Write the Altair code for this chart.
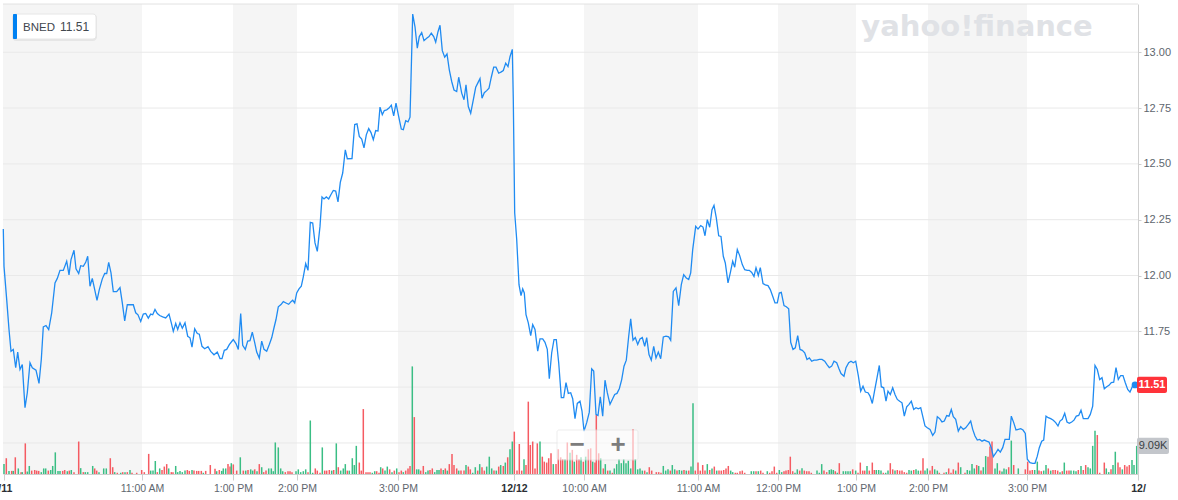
import altair as alt
import pandas as pd

# ---------------- data ----------------
# x is the position along the intraday trade-sequence axis (12/11 open -> 12/13)
line_t = [3.3, 4, 6.7, 9, 11, 13.3, 15.7, 17.7, 20, 22.3, 25, 27.3, 30, 32.3, 36, 39, 41.3, 43.3, 46, 48.7,
          51.7, 55, 57.3, 60, 63.3, 66.7, 69, 71, 74, 76, 78.7, 80.7, 83.3, 85.7, 87.7, 90, 92.3, 94.7, 97, 99.3,
          102.3, 104.7, 106.7, 108.7, 111, 113.3, 116.7, 120, 122.3, 124.7, 127.3, 133.3, 135.7, 138, 140.7, 143.3,
          145.7, 148.3, 150.7, 152.7, 155, 157.3, 159.7, 162.7, 165.7, 169, 171.3, 173.3, 175.7, 177.7, 180, 182.3,
          185, 187.7, 190, 192, 194.7, 197.3, 199.3, 202, 204.7, 208, 210.7, 214, 217.3, 220, 222, 224.3, 226.7,
          229.3, 232.7,
          233.3, 236, 238.3, 240.7, 242.7, 245.3, 247.7, 250, 252.3, 254.7, 256.7, 259.3, 261.7, 264, 266.7, 269.3,
          271.7, 274, 276, 278.3, 281, 283.3, 286, 288.7, 291, 292.7, 294.7, 296.7, 299, 301.3, 303.3, 305.7, 308,
          310.3, 312.7, 315, 317.3, 320, 322, 324, 326.3, 328.7, 331, 333.3, 335.7, 338, 340.3, 342.7, 345.3, 347.3,
          352, 354.7, 357, 359.3, 361.7, 364, 366.3, 368.7, 371, 373.3, 375.7, 378, 380, 382.3, 384.3, 386.7, 389,
          391.3, 393.7, 396, 398.7, 401.3, 403.3, 405.7, 408, 410, 412.7, 415, 417.3, 419.3, 421.7, 424, 426.7, 429,
          431.3, 433.7, 435.7, 438, 440, 442.3, 444.7, 447, 449.3, 451.7, 454, 456.7, 458.7,
          461.7, 464, 466, 468.3, 470.7, 473.3, 475.7, 478, 480, 482, 484.3, 486.7, 489, 491.3, 493.7, 496, 498.7,
          501.3, 503.3, 505.7, 508, 510, 512.3, 513.3, 514.7, 516.7, 519, 521, 522.7, 524.3, 526, 528.3, 530.7,
          532.7, 535, 537.7, 540, 542.7, 545, 547.3, 549.3, 551.7, 554, 556.3, 558.7, 561.3, 563.7, 566, 568.3,
          570.7, 572.7, 575, 577.3, 580, 582, 584, 586.7, 589.3, 591.7, 593.7, 596, 598, 600.3, 602.7, 605, 607.3,
          610, 612.3, 614.7, 617, 619.3, 621.7, 624, 626.3, 628.7, 630.7, 633, 635.3, 637.7, 640, 642.3, 644.7,
          646.7, 649, 651.3, 653.7, 656, 658.3, 660.7, 663.3, 666, 668.7, 670.7, 673.3, 676, 678.7, 681.3, 683.7,
          686.3, 688.7, 690.7, 692.7,
          695.7, 698, 700.7, 703, 705, 707.3, 709.7, 712, 714, 716.3, 718.7, 721, 723.3, 725.3, 728, 730.3, 732.7,
          734.7, 737.3, 739.7, 742.3, 744.7, 747.3, 749.3, 751.7, 754, 756, 758.3, 760.3, 763, 765.3, 768, 770.3,
          772.7, 775, 777.3, 779.3, 781.3, 784, 786.3, 788.7, 790.7, 793, 795.3, 797.7, 800, 802.3, 804.7, 807,
          809.3, 811.7, 814, 816.7, 819.3, 822, 824.7, 827, 829.3, 831.7, 834, 836.7, 839, 841, 844, 846, 848.7,
          851, 853.3, 855.7, 858.3, 860.7, 863, 865.3, 868, 870, 872.3, 874.7, 877, 879.3, 881.3, 883.7, 886, 888,
          890.3, 892.7, 895, 897.3, 899.7, 902, 904.3, 906.7, 909, 911.3, 913.7, 916, 918.3,
          920.7, 922.7, 925, 927.3, 930, 932.7, 935, 937.3, 939.7, 942, 944.3, 946.7, 949, 951.3, 953.3, 955.7,
          958.3, 960.7, 963.3, 965.7, 968.3, 970.7, 972.7, 975, 977.3, 979.7, 982, 984.3, 986.7, 989, 991.3, 993.3,
          995.7, 998, 1000.3, 1002.7, 1005, 1007.7, 1009.3, 1011.3, 1013.7, 1016, 1018.3, 1020.7, 1023, 1025.3,
          1027.3, 1030, 1032.7, 1035, 1037.3, 1039.3, 1041.7, 1043.7, 1046, 1048.3, 1050.7, 1053.3, 1055.7, 1058,
          1060, 1062.3, 1064.7, 1067, 1069.3, 1071.7, 1074, 1076.3, 1078.7, 1081, 1083.3, 1085.7, 1088, 1090.3,
          1092.7, 1095, 1097.3, 1099.7, 1102, 1104.3, 1106.7, 1109, 1111.3, 1113.7, 1116, 1118.3, 1120.7, 1123,
          1125.3, 1127.7, 1130, 1132.3, 1135]

line_p = [12.208, 12.041, 11.892, 11.758, 11.661, 11.669, 11.587, 11.657, 11.579, 11.601, 11.408, 11.475, 11.609,
          11.587, 11.576, 11.517, 11.624, 11.770, 11.776, 11.758, 11.833, 11.967, 11.987, 12.023, 12.023, 12.064,
          12.003, 12.071, 12.113, 12.030, 12.009, 12.044, 12.041, 12.059, 12.086, 11.952, 11.987, 11.937, 11.889,
          11.937, 11.985, 12.009, 12.009, 12.059, 12.012, 11.928, 11.928, 11.946, 11.877, 11.797, 11.869, 11.869,
          11.833, 11.824, 11.794, 11.827, 11.830, 11.809, 11.827, 11.824, 11.848, 11.830, 11.821, 11.815, 11.810,
          11.827, 11.788, 11.750, 11.785, 11.758, 11.788, 11.764, 11.788, 11.728, 11.721, 11.679, 11.761, 11.740,
          11.737, 11.683, 11.672, 11.681, 11.660, 11.645, 11.657, 11.628, 11.628, 11.665, 11.669, 11.690, 11.710,
          11.713, 11.695, 11.669, 11.830, 11.687, 11.669, 11.706, 11.708, 11.746, 11.699, 11.657, 11.630, 11.706,
          11.669, 11.661, 11.691, 11.721, 11.766, 11.803, 11.860, 11.870, 11.883, 11.877, 11.871, 11.883, 11.889,
          11.877, 11.922, 11.940, 11.952, 11.994, 12.053, 12.023, 12.238, 12.235, 12.146, 12.108, 12.220, 12.352,
          12.343, 12.352, 12.343, 12.363, 12.381, 12.378, 12.330, 12.417, 12.459, 12.563, 12.523, 12.524, 12.676,
          12.679, 12.623, 12.611, 12.572, 12.630, 12.658, 12.640, 12.608, 12.649, 12.647, 12.754, 12.720, 12.739,
          12.742, 12.750, 12.763, 12.715, 12.772, 12.712, 12.656, 12.653, 12.693, 12.688, 12.709, 13.171, 13.114,
          13.018, 13.070, 13.088, 13.052, 13.063, 13.070, 13.085, 13.070, 13.045, 13.092, 13.121, 13.007, 12.978,
          12.992, 12.921, 12.869, 12.831, 12.824, 12.888,
          12.817, 12.787, 12.854, 12.757, 12.727, 12.787, 12.843, 12.864, 12.882, 12.794, 12.819, 12.828, 12.839,
          12.888, 12.933, 12.933, 12.906, 12.912, 12.918, 12.951, 12.936, 12.980, 13.013, 12.787, 12.280, 12.161,
          11.959, 11.910, 11.940, 11.922, 11.825, 11.788, 11.731, 11.780, 11.758, 11.661, 11.716, 11.716, 11.701,
          11.669, 11.538, 11.654, 11.713, 11.713, 11.609, 11.453, 11.453, 11.520, 11.472, 11.475, 11.448, 11.359,
          11.427, 11.437, 11.393, 11.303, 11.341, 11.388, 11.582, 11.572, 11.378, 11.373, 11.457, 11.370, 11.531,
          11.475, 11.423, 11.445, 11.467, 11.472, 11.493, 11.534, 11.594, 11.621, 11.728, 11.806, 11.710, 11.722,
          11.691, 11.716, 11.722, 11.683, 11.722, 11.646, 11.621, 11.683, 11.631, 11.657, 11.627, 11.725, 11.728,
          11.725, 11.710, 11.929, 11.945, 11.865, 11.959, 12.004, 11.989, 11.982, 12.012, 12.116,
          12.220, 12.208, 12.223, 12.217, 12.178, 12.250, 12.216, 12.295, 12.314, 12.258, 12.178, 12.175, 12.086,
          12.056, 11.967, 12.012, 12.064, 12.037, 12.116, 12.089, 12.049, 12.026, 12.023, 12.023, 12.014, 11.996,
          12.035, 12.000, 12.035, 11.964, 11.958, 11.955, 11.937, 11.907, 11.877, 11.877, 11.922, 11.925, 11.865,
          11.860, 11.851, 11.701, 11.669, 11.676, 11.731, 11.669, 11.665, 11.654, 11.624, 11.631, 11.616, 11.621,
          11.621, 11.624, 11.624, 11.616, 11.601, 11.587, 11.594, 11.616, 11.609, 11.582, 11.561, 11.549, 11.587,
          11.609, 11.616, 11.609, 11.616, 11.552, 11.482, 11.504, 11.478, 11.475, 11.460, 11.427, 11.487, 11.542,
          11.597, 11.502, 11.497, 11.437, 11.482, 11.467, 11.497, 11.467, 11.445, 11.437, 11.430, 11.370, 11.412,
          11.423, 11.437, 11.400, 11.408, 11.403,
          11.408, 11.370, 11.326, 11.318, 11.311, 11.284, 11.299, 11.368, 11.359, 11.344, 11.348, 11.373, 11.370,
          11.400, 11.368, 11.356, 11.303, 11.323, 11.311, 11.318, 11.333, 11.348, 11.311, 11.281, 11.263, 11.266,
          11.258, 11.263, 11.258, 11.254, 11.229, 11.189, 11.204, 11.221, 11.209, 11.229, 11.266, 11.266, 11.266,
          11.370, 11.341, 11.308, 11.311, 11.314, 11.308, 11.293, 11.177, 11.162, 11.159, 11.159, 11.191, 11.229,
          11.258, 11.263, 11.370, 11.363, 11.359, 11.352, 11.341, 11.326, 11.348, 11.356, 11.383, 11.344, 11.338,
          11.344, 11.352, 11.370, 11.373, 11.397, 11.359, 11.359, 11.359, 11.378, 11.415, 11.597, 11.579, 11.534,
          11.542, 11.493, 11.502, 11.508, 11.520, 11.522, 11.587, 11.534, 11.552, 11.552, 11.520, 11.490, 11.478,
          11.502, 11.51]

vol_t = [4, 6.3, 9, 11.7, 13.3, 15.3, 18.3, 21, 22.3, 25.3, 27.3, 29.3, 31.7, 34.7, 36.7, 38.7, 41.3, 43.7, 45.7,
         48.3, 50.7, 52.7, 55.3, 58, 60, 62.7, 64.7, 67.3, 69.3, 71.3, 74, 78.7, 80.7, 83.3, 85.3, 87.7, 92.7, 94.7,
         96.7, 99, 103.7, 106.3, 110.3, 112.7, 114.7, 117.3, 120.7, 122.7, 125, 127.3, 130, 132, 136.7, 141.7, 144.3,
         148.7, 150.7, 153, 155.3, 157.3, 159.7, 162, 164.3, 166.7, 168.7, 171.3, 173, 175.7, 177.7, 180, 182.3, 185,
         187.3, 189.3, 192, 194, 196.7, 198.7, 201.3, 203.3, 205.7, 210.3, 215, 216.7, 219.3, 221.7, 223.3, 225.7,
         228, 230, 231.3, 233.3,
         236.7, 240.3, 243.3, 245.7, 248, 250.7, 252.7, 254.7, 257, 259.3, 261.7, 263.7, 266, 268.7, 271.3, 273.3,
         275.3, 278.3, 280.7, 282.7, 285.3, 288, 290, 292, 296, 298.3, 300.7, 303.3, 305.7, 308, 310.3, 312.7, 315.3,
         317.3, 320, 322.3, 324.7, 326.7, 329.3, 331.7, 333.7, 336.3, 338.3, 340.7, 343.3, 345.3, 347.3, 349.3,
         352.3, 354.3, 356.3, 359.3, 361.3, 363.3, 366, 368, 370, 372.3, 374.7, 376.7, 379, 380.7, 382.7, 385,
         387.3, 389.7, 392, 394.3, 396.7, 399, 401.3, 403.3, 405.7, 408, 410, 412.3, 414.3, 416.7, 418.7, 420.7,
         423.3, 425.7, 428, 430, 432.3, 434.7, 437, 439, 441, 443.3, 445.3, 447.3, 449.3, 452, 454, 456.7, 458.7,
         461, 464, 466, 468.3, 470.3, 472.7, 475.3, 477.7, 479.7, 482, 484.3, 486.7, 489.3, 491.7, 494, 496.3, 498.7,
         500.7, 503.3, 505.3, 507.7, 510, 512.3, 514.3, 517, 519.3, 521.7, 524, 526, 528.3, 530.3, 532.7, 535,
         537.3, 540, 542.3, 544.3, 546.7, 548.7, 551, 553.3, 556, 558.3, 560.7, 562.7, 565, 567.3, 570, 572.3,
         574.3, 576.7, 579, 581, 583.3, 585.7, 588.3, 590.7, 592.7, 595, 596.3, 598.7, 600.7, 603.3, 605.3, 607.7,
         610, 612.3, 614.3, 616.7, 619, 621.3, 623.7, 626, 628.3, 630.7, 633, 635.3, 637.7, 640, 642.3, 644.7, 647,
         649.3, 651.7, 656.3, 658.7, 661, 663.3, 665.7, 668, 670.3, 672.3, 674.7, 677, 679.3, 681.7, 684, 686.3,
         688.7, 691, 693,
         695.3, 698, 700.3, 702.7, 705, 707.3, 709.7, 712, 714.3, 716.7, 719, 721.3, 723.7, 726, 728.3, 730.7,
         732.7, 735.3, 737.3, 740, 742.3, 744.7, 751.3, 753.7, 756, 758.3, 760.7, 763, 767.3, 769.7, 772, 774.3,
         776.7, 779.3, 781.7, 784, 786, 788.3, 790.3, 792.7, 795, 797.3, 799.7, 802, 804.3, 806.7, 809, 811.3, 817,
         819.3, 821.7, 824, 826.7, 829.3, 831.3, 833.3, 835.3, 837.3, 839.3, 843.3, 845.7, 848, 850.3, 852.7,
         855.7, 858, 860.3, 862.7, 864.7, 867, 869.3, 872.3, 874.3, 876.3, 878.7, 881, 883.3, 885.7, 888, 890.3,
         892.7, 895, 897.3, 899.7, 902, 904.3, 906.7, 909, 911.3, 913.7, 916, 918.3, 920.7, 923,
         925, 927.3, 930, 932.3, 934.7, 937.3, 939.3, 944, 946.3, 948.7, 951, 953.3, 955.7, 958.3, 960.7, 965,
         967.3, 969.7, 972, 974.3, 976.7, 978.7, 981, 983.3, 985.7, 988, 990, 992, 995, 997.3, 999.7, 1002, 1004,
         1006.3, 1008.7, 1011.3, 1013.7, 1018.3, 1025.3, 1027.7, 1030, 1032.3, 1034.7, 1037.3, 1039, 1041.3,
         1043.7, 1046, 1048.3, 1050.7, 1053, 1055.3, 1057.7, 1060, 1062.3, 1064.3, 1066.7, 1069, 1071, 1073.7, 1076,
         1078.3, 1081, 1083.3, 1085.7, 1088, 1090.3, 1092.7, 1095, 1097.3, 1099.7, 1104.3, 1106.3, 1108.7, 1111,
         1113, 1115.3, 1118, 1120, 1122.3, 1124.7, 1127, 1129.3, 1132, 1134, 1136.7]

vol_k = [3.2, 5.1, 1.0, 1.0, 1.0, 5.4, 1.8, 0.6, 0.6, 9.9, 0.8, 2.6, 1.1, 1.3, 1.1, 1.0, 0.6, 1.8, 1.8,
         1.1, 1.3, 2.6, 7.0, 1.0, 1.0, 1.0, 1.3, 0.9, 1.1, 1.3, 0.6, 10.5, 1.9, 0.6, 0.6, 0.6, 2.6, 1.8,
         1.1, 0.6, 1.8, 1.8, 5.1, 2.2, 0.6, 0.4, 0.4, 0.6, 0.6, 0.6, 1.3, 0.4, 0.4, 1.3, 0.6,
         6.5, 1.1, 1.1, 4.2, 0.6, 1.8, 1.3, 2.4, 3.2, 1.8, 0.6, 0.6, 2.6, 0.6, 1.0, 0.6, 1.1,
         1.3, 1.0, 1.3, 1.1, 1.0, 1.0, 1.0, 0.4, 1.0, 2.9, 1.7, 0.9, 1.3, 1.0, 1.8, 1.8,
         3.2, 2.4, 3.5, 3.1,
         1.1, 5.4, 1.1, 1.1, 1.3, 1.5, 1.1, 1.5, 0.9, 3.2, 2.2, 0.6, 1.1, 1.8, 1.8, 0.9,
         10.2, 8.6, 1.8, 0.9, 0.6, 0.9, 0.9, 0.6, 0.9, 1.5, 0.6, 0.9, 1.5, 0.6, 17.3, 0.4, 1.8,
         1.1, 0.4, 8.6, 1.1, 1.1, 1.3, 1.1, 1.3, 9.9, 2.2, 1.1, 1.8, 3.2, 1.1, 1.1,
         5.1, 2.9, 9.1, 3.7, 1.1, 21.0, 0.6, 0.6, 0.6, 0.4, 0.9, 0.9, 0.4, 2.2, 1.8, 1.1,
         2.4, 1.5, 0.6, 1.1, 1.8, 0.6, 1.1, 0.6, 1.1, 1.8, 2.6, 34.8, 18.4, 1.5, 1.5, 1.1,
         2.6, 0.6, 1.1, 1.3, 1.8, 0.6, 1.3, 1.3, 1.8, 1.3, 1.8, 1.1, 3.2, 6.5, 2.9, 1.8, 1.1,
         1.1, 1.1, 2.9, 2.4, 1.5, 0.4, 2.2, 1.1, 3.2, 2.2, 1.1, 2.4, 5.6, 1.8, 1.1, 1.1, 2.4,
         2.9, 2.6, 3.7, 5.4, 8.0, 10.5, 13.7, 1.1, 9.7, 1.1, 4.8, 2.9, 23.4, 9.4, 10.5, 1.8,
         9.9, 10.5, 5.6, 4.0, 3.7, 5.1, 6.7, 3.2, 3.2, 8.0, 5.4, 4.8, 4.8, 10.2, 6.9, 7.8,
         4.0, 6.2, 4.8, 5.4, 4.0, 5.6, 8.0, 8.3, 4.0, 3.7, 19.1, 6.7, 5.1, 1.8, 3.2, 1.1,
         1.1, 0.4, 1.8, 3.2, 4.8, 3.5, 4.8, 3.5, 4.3, 1.8, 14.5, 4.8, 1.5, 1.8, 1.1, 1.1, 0.6,
         2.2, 1.1, 0.6, 0.6, 0.4, 2.6, 1.1, 1.5, 1.1, 2.9, 1.5, 1.1, 1.3, 1.1, 1.3, 1.1,
         1.1, 2.4, 22.9,
         1.1, 3.7, 1.1, 2.9, 1.1, 3.2, 1.3, 1.8, 2.4, 1.1, 1.1, 1.1, 1.3, 1.8, 2.6, 1.1,
         0.6, 0.4, 0.4, 0.9, 1.1, 0.4, 0.9, 0.9, 0.9, 0.9, 1.1, 0.4, 0.9, 0.4, 0.9, 2.4,
         0.4, 1.3, 0.6, 0.9, 1.1, 1.3, 5.6, 0.9, 0.4, 1.5, 1.1, 1.9, 1.1, 0.9, 0.9, 0.4, 1.1,
         0.4, 3.2, 1.1, 0.6, 1.3, 1.5, 1.3, 0.9, 0.4, 3.5, 0.9, 0.9, 0.9, 0.9, 1.5,
         1.1, 0.4, 3.7, 1.1, 1.1, 2.6, 1.1, 3.7, 1.3, 1.3, 1.3, 1.1, 0.4, 0.4, 1.1, 3.5,
         1.5, 1.1, 1.3, 1.1, 1.1, 0.6, 0.4, 1.3, 1.1, 1.3, 1.5, 1.1, 1.1, 5.1,
         1.1, 1.8, 1.1, 2.6, 1.5, 1.1, 0.4, 0.4, 0.6, 1.8, 0.4, 1.5, 1.1, 3.7, 2.2, 0.4,
         1.3, 1.1, 3.2, 1.8, 2.9, 2.6, 1.1, 2.2, 5.8, 5.6, 8.9, 10.5, 1.8, 3.5, 1.1, 0.8, 1.8,
         1.5, 2.2, 10.8, 2.9, 1.8, 1.5, 4.0, 1.1, 1.3, 1.3, 4.0, 1.1, 0.9,
         1.1, 2.9, 1.8, 1.1, 1.3, 1.3, 1.1, 0.6, 0.9, 3.7, 1.1, 1.1, 1.1, 1.1, 0.9,
         1.3, 2.6, 1.3, 2.9, 2.2, 1.8, 9.1, 14.0, 12.6, 0.4, 3.7, 1.8, 0.6, 1.5,
         2.9, 7.2, 3.7, 2.2, 1.5, 2.9, 2.4, 2.9, 4.5, 2.9, 9.09]

# colour of each volume bar: g = up minute (green), r = down minute (red)
vol_dir = (
    "grgrgrgrgr" "ggrrrrgggr" "gggggrrgrg" "rrgrgggrrg" "ggrrgrgrgr" "grrrrrgggr" "grrrgrrggg" "ggrrgrrrrg"
    "rrrgrgggrr" "gr"
    "rgrgrggrgr" "grrggggggg" "rrrrgggggr" "ggrrrgrrrg" "rgrgggrggg" "grrrrrrggr" "rgrggrgrgr" "rgrrrgrggr"
    "rggrrgggrg" "rgrrrrgr"
    "rgrrggrgrr" "gggrgrgrgr" "ggrrrrgrrr" "rrrgrrrrrg" "rrrrgrgrgr" "rgrgrrgrrr" "grgrgrgggg" "ggggrggggr"
    "grrrrrgggr" "ggrggrgrgg"
    "rrrrrgrgrg" "rrrrrggrrr" "rrggrgrrgr" "rrrggrrrrr" "ggrgrrrrgg" "grrgggrgrg" "gggrgrrrrg" "rrrgggrggr"
    "rgrrrrrggr" "ggrr"
    "ggrrggrrgr" "rrgrgrgggg" "rgrggrrrgg" "rgggrgrgrr" "rrggrrggrg" "rrrgrgrrgg" "grgrrggggr" "rrggrggrrg"
    "rrrggg"
)

tick_t = [4, 142, 233, 297, 398, 514, 584, 698, 778, 856, 928, 1027, 1138]
tick_lab = ["12/11", "11:00 AM", "1:00 PM", "2:00 PM", "3:00 PM", "12/12", "10:00 AM",
            "11:00 AM", "12:00 PM", "1:00 PM", "2:00 PM", "3:00 PM", "12/"]
date_ticks = [4, 514, 1138]

grid_vals = [11.25, 11.5, 11.75, 12.0, 12.25, 12.5, 12.75, 13.0]
ylabel_vals = [11.75, 12.0, 12.25, 12.5, 12.75, 13.0]

symbol = "BNED"
last_price = 11.51
last_vol = 9.09

# ---------------- styling / layout ----------------
W, H = 1135, 470
X_DOM = [3, 1138]
P_DOM = [11.111, 13.216]
V_DOM = [0, 152]
BLUE = "#1f8bf2"
GREEN = "#2fbb7d"
RED = "#f4525a"
AX = "#cfcfcf"
FONT = "Liberation Sans"

n = min(len(vol_t), len(vol_k))
dirs = (vol_dir + "g" * n)[:n]

line_df = pd.DataFrame({"t": line_t, "p": line_p})
vol_df = pd.DataFrame({"t": vol_t[:n], "v": vol_k[:n], "d": list(dirs), "z": [0] * n})
band_df = pd.DataFrame({"s": [X_DOM[0]] + tick_t[2:12:2], "e": tick_t[1:12:2]})
grid_df = pd.DataFrame({"g": grid_vals})
one = pd.DataFrame({"k": [0]})

xs = alt.Scale(domain=X_DOM, nice=False, zero=False)
ps = alt.Scale(domain=P_DOM, nice=False, zero=False)
vs = alt.Scale(domain=V_DOM, nice=False)

label_expr = " : ".join(f"datum.value == {t} ? '{l}'" for t, l in zip(tick_t, tick_lab)) + " : ''"
date_test = " || ".join(f"datum.value == {t}" for t in date_ticks)
x_axis = alt.Axis(values=tick_t, labelExpr=label_expr, title=None, grid=False, labelFlush=False,
                  labelOverlap=False, domainColor=AX, tickColor=AX, tickSize=6, labelPadding=3,
                  labelFont=FONT, labelFontSize=10.5,
                  labelOffset={"condition": {"test": f"datum.value == {tick_t[0]}", "value": -5}, "value": 0},
                  labelColor={"condition": {"test": date_test, "value": "#2b2f33"}, "value": "#5e666e"},
                  labelFontWeight={"condition": {"test": date_test, "value": "bold"}, "value": "normal"})
y_axis = alt.Axis(orient="right", values=ylabel_vals, format=".2f", title=None, grid=False,
                  domainColor=AX, tickColor=AX, tickSize=3, labelPadding=2, labelFont=FONT,
                  labelFontSize=11, labelColor="#5e666e")

bands = alt.Chart(band_df).mark_rect(color="#f5f5f5").encode(
    x=alt.X("s:Q", scale=xs, axis=x_axis), x2="e:Q", y=alt.value(0), y2=alt.value(H))

top_rule = alt.Chart(one).mark_rule(color="#e2e2e2", strokeWidth=1).encode(
    x=alt.value(0), x2=alt.value(W), y=alt.value(0))

grid = alt.Chart(grid_df).mark_rule(color="#e9e9e9", strokeWidth=1).encode(
    y=alt.Y("g:Q", scale=ps, axis=None), x=alt.value(0), x2=alt.value(W))

vols = alt.Chart(vol_df).mark_rule(strokeWidth=1.5, opacity=0.95).encode(
    x=alt.X("t:Q", scale=xs, axis=x_axis),
    y=alt.Y("v:Q", scale=vs, axis=None), y2="z:Q",
    color=alt.Color("d:N", scale=alt.Scale(domain=["g", "r"], range=[GREEN, RED]), legend=None))

line = alt.Chart(line_df).mark_line(color=BLUE, strokeWidth=1.3, interpolate="linear").encode(
    x=alt.X("t:Q", scale=xs, axis=x_axis), y=alt.Y("p:Q", scale=ps, axis=y_axis))

last_df = pd.DataFrame({"t": [line_t[-1]], "p": [last_price]})
dot = alt.Chart(last_df).mark_circle(color=BLUE, size=45, opacity=1).encode(
    x=alt.X("t:Q", scale=xs, axis=x_axis), y=alt.Y("p:Q", scale=ps, axis=None))

pbox_df = pd.DataFrame({"p": [last_price], "lab": [f"{last_price:.2f}"]})
pbox = alt.Chart(pbox_df).transform_calculate(lo="datum.p - 0.036", hi="datum.p + 0.036").mark_rect(
    color="#ff333a", cornerRadius=2).encode(
    y=alt.Y("lo:Q", scale=ps, axis=None), y2="hi:Q", x=alt.value(W - 1), x2=alt.value(W + 29))
ptext = alt.Chart(pbox_df).mark_text(color="white", fontWeight="bold", fontSize=11, font=FONT,
                                    baseline="middle", align="center").encode(
    y=alt.Y("p:Q", scale=ps, axis=None), x=alt.value(W + 14), text="lab:N")

vbox_df = pd.DataFrame({"v": [last_vol], "lab": [f"{last_vol:.2f}K"]})
vbox = alt.Chart(vbox_df).transform_calculate(lo="datum.v - 2.6", hi="datum.v + 2.6").mark_rect(
    color="#c3c6cb", cornerRadius=2).encode(
    y=alt.Y("lo:Q", scale=vs, axis=None), y2="hi:Q", x=alt.value(W - 1), x2=alt.value(W + 31))
vtext = alt.Chart(vbox_df).mark_text(color="#3a3f44", fontSize=11, font=FONT,
                                    baseline="middle", align="center").encode(
    y=alt.Y("v:Q", scale=vs, axis=None), x=alt.value(W + 15), text="lab:N")

# legend chip (top-left)
leg_shadow = alt.Chart(one).mark_rect(color="#000000", opacity=0.06, cornerRadius=4).encode(
    x=alt.value(9), x2=alt.value(94), y=alt.value(10), y2=alt.value(37))
leg_box = alt.Chart(one).mark_rect(color="white", stroke="#e6e6e6", strokeWidth=1, cornerRadius=3).encode(
    x=alt.value(10), x2=alt.value(93), y=alt.value(10), y2=alt.value(35))
leg_bar = alt.Chart(one).mark_rect(color="#0081f2", cornerRadius=1).encode(
    x=alt.value(10), x2=alt.value(14), y=alt.value(10), y2=alt.value(35))
leg_sym = alt.Chart(one).mark_text(text=symbol, font=FONT, fontSize=11.5, color="#41474e",
                                   align="left", baseline="alphabetic").encode(
    x=alt.value(20), y=alt.value(27))
leg_val = alt.Chart(one).mark_text(text=f"{last_price:.2f}", font=FONT, fontSize=12, color="#41474e",
                                   align="left", baseline="alphabetic").encode(
    x=alt.value(57), y=alt.value(27))

# watermark
wm = alt.Chart(one).mark_text(text="yahoo!finance", font="DejaVu Sans", fontWeight="bold", fontSize=29,
                              color="#e0e2e6", align="center", baseline="alphabetic").encode(
    x=alt.value(974), y=alt.value(32))

# zoom control
zc_box = alt.Chart(one).mark_rect(color="white", opacity=0.6, stroke="#e3e3e3", strokeWidth=1,
                                  cornerRadius=2).encode(
    x=alt.value(554), x2=alt.value(635), y=alt.value(426), y2=alt.value(456))
zc_minus = alt.Chart(one).mark_text(text="\u2212", font=FONT, fontSize=26, fontWeight="bold",
                                    color="#7d7d7d", align="center", baseline="middle").encode(
    x=alt.value(574), y=alt.value(441))
zc_plus = alt.Chart(one).mark_text(text="+", font=FONT, fontSize=26, fontWeight="bold",
                                   color="#7d7d7d", align="center", baseline="middle").encode(
    x=alt.value(615), y=alt.value(441))

chart = alt.layer(
    bands, top_rule, grid, vols, line, dot, pbox, ptext, vbox, vtext,
    leg_shadow, leg_box, leg_bar, leg_sym, leg_val, wm, zc_box, zc_minus, zc_plus
).resolve_scale(y="independent").properties(
    width=W, height=H,
    padding={"left": 3, "top": 4, "right": 40, "bottom": 26},
    autosize=alt.AutoSizeParams(type="none"),
    background="white",
).configure_view(stroke=None)

chart.save("out.html", embed_options={"renderer": "svg", "actions": False})
